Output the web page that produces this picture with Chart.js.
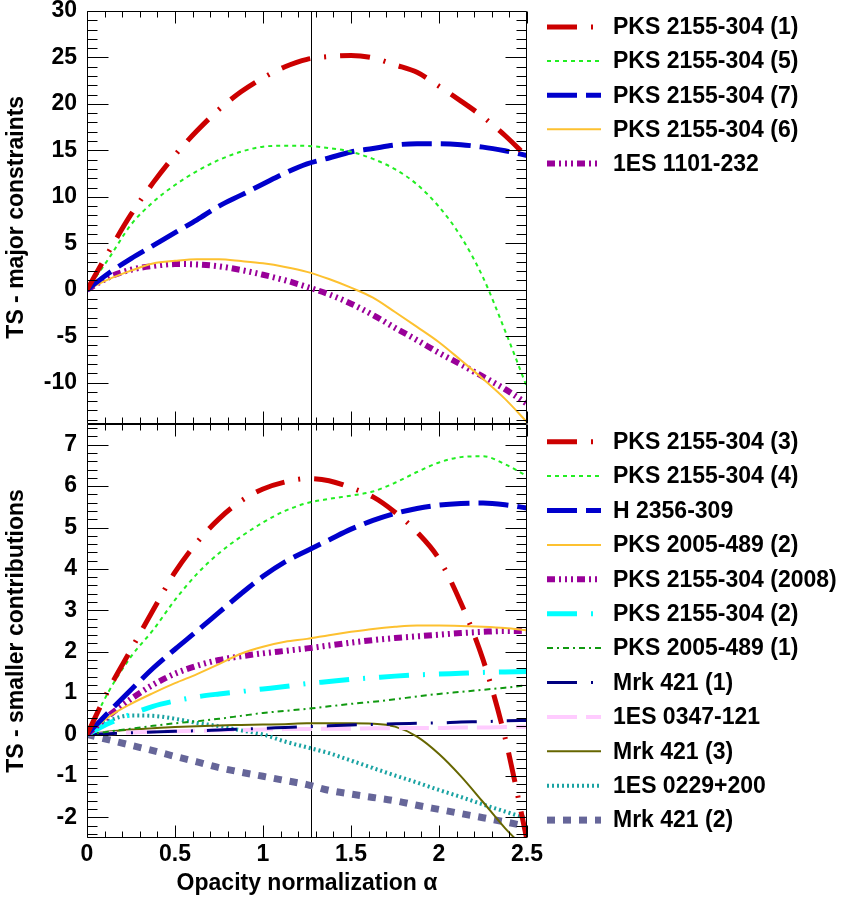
<!DOCTYPE html>
<html>
<head>
<meta charset="utf-8">
<script src="https://cdn.jsdelivr.net/npm/chart.js@4.4.1/dist/chart.umd.min.js"></script>
<style>
  html, body { margin: 0; padding: 0; background: #fff; }
  #wrap { position: relative; width: 845px; height: 899px; }
  #wrap canvas { position: absolute; left: 0; top: 0; }
</style>
</head>
<body>
<div id="wrap">
  <canvas id="topPanel" width="845" height="899"></canvas>
  <canvas id="bottomPanel" width="845" height="899"></canvas>
</div>
<script>
// opacity normalization values where the curves were read
const alphas = [0, 0.125, 0.25, 0.375, 0.5, 0.625, 0.75, 0.875, 1, 1.125, 1.25,
  1.375, 1.5, 1.625, 1.75, 1.875, 2, 2.125, 2.25, 2.375, 2.5]

// tick labels
const xTicks = [0, 0.5, 1, 1.5, 2, 2.5]
const topYTicks = [-10, -5, 0, 5, 10, 15, 20, 25, 30]
const bottomYTicks = [-2, -1, 0, 1, 2, 3, 4, 5, 6, 7]
const bestAlpha = 1.27

// top panel - major constraints
const pks1 = [0, 4.15, 8.1, 11.5, 14.5, 17.1, 19.4, 21.3, 22.8, 24.0, 24.8, 25.1, 25.2, 24.95, 24.2, 23.4, 21.9, 20.3, 18.6, 16.6, 14.3]
const pks5 = [0, 3.4, 7.0, 9.43, 11.27, 12.77, 13.97, 14.85, 15.4, 15.5, 15.48, 15.25, 14.85, 14.08, 12.97, 11.33, 8.93, 5.7, 1.33, -4.4, -10.5]
const pks7 = [0, 1.8, 3.35, 4.74, 6.15, 7.52, 9.0, 10.18, 11.37, 12.55, 13.55, 14.18, 14.83, 15.2, 15.58, 15.7, 15.7, 15.6, 15.35, 14.95, 14.45]
const pks6 = [0, 1.14, 2.05, 2.83, 3.11, 3.28, 3.27, 3.08, 2.84, 2.45, 1.92, 1.15, 0.22, -0.85, -2.4, -4.0, -5.65, -7.6, -9.6, -11.75, -14.25]
const es1101 = [0, 1.35, 2.15, 2.55, 2.76, 2.72, 2.52, 2.12, 1.61, 1.02, 0.3, -0.5, -1.5, -2.72, -4.1, -5.42, -6.8, -8.05, -9.36, -10.7, -12.27]

// bottom panel - smaller contributions
const pks3 = [0, 1.1, 2.05, 3.0, 3.92, 4.64, 5.21, 5.64, 5.93, 6.1, 6.18, 6.13, 5.96, 5.74, 5.37, 4.89, 4.24, 3.17, 1.81, -0.07, -2.55]
const pks4 = [0, 1.05, 1.88, 2.52, 3.25, 3.88, 4.38, 4.78, 5.12, 5.4, 5.59, 5.69, 5.77, 5.87, 6.08, 6.34, 6.57, 6.7, 6.72, 6.53, 6.24]
const h2356 = [0, 0.55, 1.08, 1.6, 2.06, 2.5, 2.95, 3.4, 3.82, 4.17, 4.44, 4.7, 4.96, 5.17, 5.34, 5.46, 5.54, 5.58, 5.59, 5.55, 5.47]
const pks2005b = [0, 0.43, 0.74, 1.0, 1.24, 1.46, 1.7, 1.95, 2.12, 2.24, 2.31, 2.4, 2.48, 2.55, 2.6, 2.63, 2.63, 2.62, 2.6, 2.57, 2.52]
const pks2008 = [0, 0.46, 0.86, 1.2, 1.47, 1.66, 1.8, 1.89, 1.96, 2.02, 2.08, 2.15, 2.22, 2.28, 2.33, 2.37, 2.41, 2.45, 2.48, 2.5, 2.5]
const pks2 = [0, 0.27, 0.49, 0.68, 0.81, 0.91, 0.98, 1.04, 1.1, 1.16, 1.23, 1.28, 1.33, 1.37, 1.41, 1.44, 1.46, 1.48, 1.5, 1.51, 1.52]
const pks2005a = [0, 0.07, 0.14, 0.21, 0.27, 0.32, 0.38, 0.45, 0.52, 0.57, 0.62, 0.68, 0.74, 0.79, 0.85, 0.92, 0.98, 1.03, 1.08, 1.13, 1.19]
const mrk1 = [0, 0.02, 0.04, 0.06, 0.08, 0.09, 0.11, 0.13, 0.15, 0.17, 0.19, 0.21, 0.23, 0.24, 0.26, 0.27, 0.28, 0.3, 0.31, 0.33, 0.34]
const es0347 = [0, 0.03, 0.05, 0.07, 0.08, 0.09, 0.1, 0.11, 0.12, 0.13, 0.13, 0.14, 0.14, 0.15, 0.15, 0.16, 0.16, 0.17, 0.17, 0.18, 0.19]
const mrk3 = [0, 0.07, 0.12, 0.15, 0.18, 0.2, 0.22, 0.23, 0.24, 0.25, 0.27, 0.27, 0.27, 0.26, 0.19, -0.05, -0.47, -1.01, -1.63, -2.26, -2.8]
const es0229 = [0, 0.33, 0.46, 0.45, 0.38, 0.28, 0.2, 0.1, 0.0, -0.17, -0.31, -0.45, -0.63, -0.81, -0.99, -1.16, -1.34, -1.51, -1.69, -1.86, -2.03]
const mrk2 = [0, -0.13, -0.26, -0.39, -0.53, -0.66, -0.8, -0.91, -1.01, -1.11, -1.21, -1.35, -1.44, -1.52, -1.6, -1.71, -1.81, -1.91, -2.01, -2.11, -2.22]

const FONT = '"Liberation Sans", Arial, Helvetica, sans-serif'
const FONT_SIZE = 23
Chart.defaults.font.family = FONT
Chart.defaults.font.size = FONT_SIZE
Chart.defaults.font.weight = 'bold'
Chart.defaults.color = '#000'

// line styles roughly following the ROOT ones
const dashDot = [30, 14, 2, 14]
const longDash = [30, 9]
const shortDot = [4, 4]
const dashDotDotDot = [8, 4, 2, 4, 2, 4, 2, 4]

function series(label, values, color, width, dash) {
  return {
    label,
    data: values.map((v, i) => ({ x: alphas[i], y: v })),
    borderColor: color,
    borderWidth: width,
    borderDash: dash,
    pointRadius: 0,
    fill: false,
    cubicInterpolationMode: 'monotone',
    clip: 0
  }
}

// frame, zero line, best-fit line and ROOT-style inner ticks
const rootFrame = {
  id: 'rootFrame',
  beforeDatasetsDraw(chart) {
    const { ctx, chartArea: a, scales: { x, y } } = chart
    ctx.save()
    ctx.strokeStyle = '#000'
    ctx.lineWidth = 1
    ctx.beginPath()
    const y0 = Math.round(y.getPixelForValue(0)) + 0.5
    ctx.moveTo(a.left, y0)
    ctx.lineTo(a.right, y0)
    const xb = Math.round(x.getPixelForValue(bestAlpha)) + 0.5
    ctx.moveTo(xb, a.top)
    ctx.lineTo(xb, a.bottom)
    ctx.stroke()
    ctx.restore()
  },
  afterDatasetsDraw(chart, args, opts) {
    const { ctx, chartArea: a, scales: { x, y } } = chart
    const L = Math.round(a.left) + 0.5
    const R = Math.round(a.right) - 0.5
    const T = Math.round(a.top) + 0.5
    const B = Math.round(a.bottom) - 0.5
    ctx.save()
    ctx.strokeStyle = '#000'
    ctx.lineWidth = 1
    ctx.beginPath()
    ctx.rect(L, T, R - L, B - T)

    const isMajor = (v, step) => Math.abs(v / step - Math.round(v / step)) < 1e-6
    // y ticks on both sides
    for (let i = Math.ceil(y.min / opts.yMinor - 1e-6); i * opts.yMinor <= y.max + 1e-6; i++) {
      const v = i * opts.yMinor
      const py = Math.round(y.getPixelForValue(v)) + 0.5
      const len = isMajor(v, opts.yMajor) ? 21 : 10
      ctx.moveTo(L, py); ctx.lineTo(L + len, py)
      ctx.moveTo(R, py); ctx.lineTo(R - len, py)
    }
    // x ticks on top and bottom
    for (let i = 0; i * 0.1 <= x.max + 1e-6; i++) {
      const v = i * 0.1
      const px = Math.round(x.getPixelForValue(v)) + 0.5
      const len = isMajor(v, 0.5) ? 12 : 6
      ctx.moveTo(px, T); ctx.lineTo(px, T + len)
      ctx.moveTo(px, B); ctx.lineTo(px, B - len)
    }
    ctx.stroke()
    ctx.restore()
  }
}

// legend to the right of each panel
const sideLegend = {
  id: 'sideLegend',
  afterDraw(chart, args, opts) {
    const { ctx } = chart
    ctx.save()
    chart.data.datasets.forEach((ds, i) => {
      const ly = opts.top + i * opts.gap
      ctx.beginPath()
      ctx.strokeStyle = ds.borderColor
      ctx.lineWidth = ds.borderWidth
      ctx.setLineDash(ds.borderDash || [])
      ctx.moveTo(547, ly)
      ctx.lineTo(601, ly)
      ctx.stroke()
      ctx.setLineDash([])
      ctx.fillStyle = '#000'
      ctx.font = 'bold ' + FONT_SIZE + 'px ' + FONT
      ctx.textAlign = 'left'
      ctx.textBaseline = 'middle'
      ctx.fillText(ds.label, 613, ly + 1)
    })
    ctx.restore()
  }
}

function yAxis(min, max, ticks, title) {
  return {
    type: 'linear',
    min, max,
    afterBuildTicks: s => { s.ticks = ticks.map(v => ({ value: v })) },
    afterFit: s => { s.width = 87; s.paddingTop = 0; s.paddingBottom = 0 },
    grid: { display: false, drawTicks: false },
    border: { display: false },
    ticks: { padding: 10, callback: v => String(v) },
    title: { display: true, text: title, padding: { top: 3, bottom: 0 } }
  }
}

function xAxis(show) {
  return {
    type: 'linear',
    display: show,
    min: 0, max: 2.5,
    afterBuildTicks: s => { s.ticks = xTicks.map(v => ({ value: v })) },
    afterFit: s => { s.height = show ? 61 : 0; s.paddingLeft = 0; s.paddingRight = 0 },
    grid: { display: false, drawTicks: false },
    border: { display: false },
    ticks: { padding: 3, maxRotation: 0, autoSkip: false, callback: v => String(v) },
    title: { display: true, text: 'Opacity normalization α', padding: { top: 0, bottom: 2 } }
  }
}

function makeChart(id, datasets, yCfg, showX, padding, frameOpts, legendOpts) {
  return new Chart(document.getElementById(id), {
    type: 'line',
    data: { datasets },
    options: {
      responsive: false,
      animation: false,
      events: [],
      layout: { padding },
      scales: { x: xAxis(showX), y: yCfg },
      plugins: {
        legend: { display: false },
        tooltip: { enabled: false },
        rootFrame: frameOpts,
        sideLegend: legendOpts
      }
    },
    plugins: [rootFrame, sideLegend]
  })
}

makeChart('topPanel', [
  series('PKS 2155-304 (1)', pks1, '#cc0000', 5, dashDot),
  series('PKS 2155-304 (5)', pks5, '#22ee22', 2, shortDot),
  series('PKS 2155-304 (7)', pks7, '#0000cc', 5, longDash),
  series('PKS 2155-304 (6)', pks6, '#fdc130', 2, []),
  series('1ES 1101-232', es1101, '#990099', 6, dashDotDotDot)
], yAxis(-14.4, 30, topYTicks, 'TS - major constraints'), false,
{ left: 0, right: 318, top: 11, bottom: 475.5 },
{ yMinor: 1, yMajor: 5 },
{ top: 27, gap: 34.1 })

makeChart('bottomPanel', [
  series('PKS 2155-304 (3)', pks3, '#cc0000', 5, dashDot),
  series('PKS 2155-304 (4)', pks4, '#22ee22', 2, shortDot),
  series('H 2356-309', h2356, '#0000cc', 5, longDash),
  series('PKS 2005-489 (2)', pks2005b, '#fdc130', 2, []),
  series('PKS 2155-304 (2008)', pks2008, '#990099', 6, dashDotDotDot),
  series('PKS 2155-304 (2)', pks2, '#00ffff', 5, dashDot),
  series('PKS 2005-489 (1)', pks2005a, '#109910', 2, [6, 4, 2, 4]),
  series('Mrk 421 (1)', mrk1, '#000080', 3, dashDot),
  series('1ES 0347-121', es0347, '#ffccff', 4, longDash),
  series('Mrk 421 (3)', mrk3, '#666600', 2, []),
  series('1ES 0229+200', es0229, '#1aa3a3', 4, [2, 3]),
  series('Mrk 421 (2)', mrk2, '#666699', 7, [8, 8])
], yAxis(-2.5, 7.5, bottomYTicks, 'TS - smaller contributions'), true,
{ left: 0, right: 318, top: 424, bottom: 0 },
{ yMinor: 0.2, yMajor: 1 },
{ top: 441.7, gap: 34.4 })
</script>
</body>
</html>
